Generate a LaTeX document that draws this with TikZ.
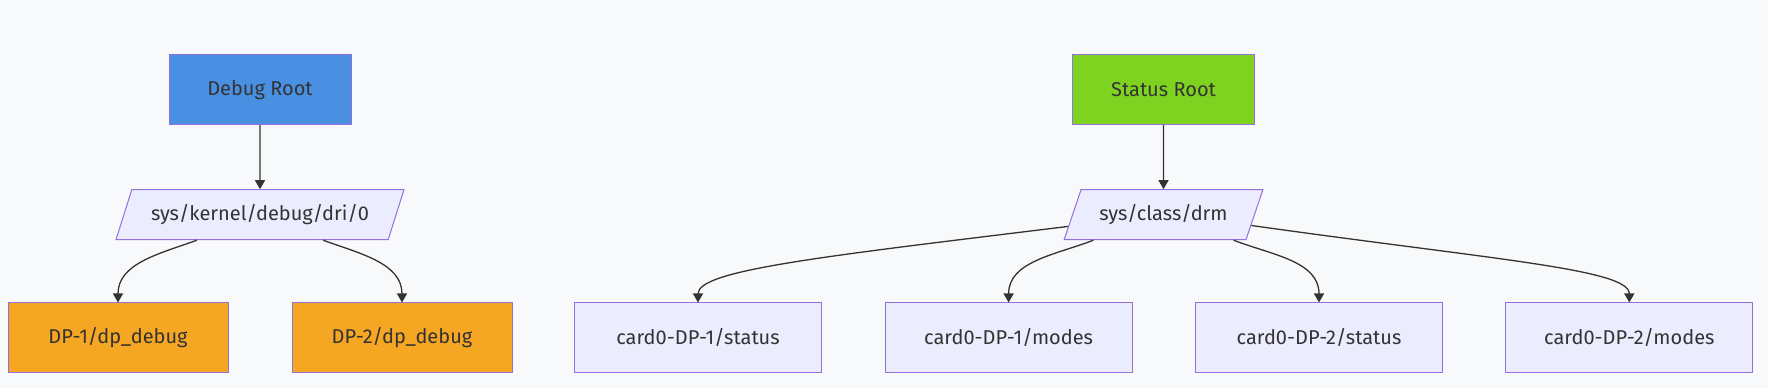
\documentclass[tikz,border=0pt]{standalone}
\usepackage{fontspec}
\setmainfont{Fira Sans}
\usepackage{tikz}
\usetikzlibrary{
  arrows.meta,
  shapes.geometric,
  positioning
}
\definecolor{fsBlue}{HTML}{4A90E2}
\definecolor{fsGreen}{HTML}{7ED321}
\definecolor{fsOrange}{HTML}{F5A623}
\definecolor{fsLilac}{HTML}{ECECFF}
\definecolor{fsStroke}{HTML}{9370DB}
\definecolor{fsInk}{HTML}{333333}
\definecolor{fsBg}{HTML}{F8F9FA}
\tikzset{
  fsnode/.style={
    draw=fsStroke, line width=1pt, minimum height=69pt,
    font=\fontsize{20}{24}\selectfont, text=fsInk, align=center
  },
  rootbox/.style={fsnode, minimum width=182pt, minimum height=70pt},
  debugroot/.style={rootbox, fill=fsBlue},
  statusroot/.style={rootbox, fill=fsGreen},
  fspath/.style={
    fsnode, trapezium, trapezium left angle=63, trapezium right angle=117,
    trapezium stretches=true, fill=fsLilac, minimum height=50pt
  },
  debugfile/.style={fsnode, fill=fsOrange, minimum width=220pt},
  statusfile/.style={fsnode, fill=fsLilac, minimum width=247pt},
  flow/.style={-{Triangle[length=9pt, width=10pt]}, line width=1.3pt, fsInk}
}
\begin{document}
\begin{tikzpicture}[x=1pt, y=1pt, node distance=64pt]
  \fill[fsBg] (0,0) rectangle (1768,388);
  \useasboundingbox (0,0) rectangle (1768,388);
  % debugfs tree
  \node[debugroot] (debug) at (260,298.3) {Debug Root};
  \node[fspath, below=of debug, minimum width=289pt] (dri) {sys/kernel/debug/dri/0};
  \node[debugfile] (dp1) at (118,50.5) {DP-1/dp\_debug};
  \node[debugfile] (dp2) at (402,50.5) {DP-2/dp\_debug};
  % sysfs tree
  \node[statusroot] (status) at (1163.5,298.3) {Status Root};
  \node[fspath, below=of status, minimum width=199pt] (drm) {sys/class/drm};
  \node[statusfile] (c1s) at (698,50.5) {card0-DP-1/status};
  \node[statusfile] (c1m) at (1008.6,50.5) {card0-DP-1/modes};
  \node[statusfile] (c2s) at (1319,50.5) {card0-DP-2/status};
  \node[statusfile] (c2m) at (1629.3,50.5) {card0-DP-2/modes};
  \draw[flow] (debug) -- (dri);
  \draw[flow] (dri.202) to[out=200, in=90] (dp1.north);
  \draw[flow] (dri.338) to[out=340, in=90] (dp2.north);
  \draw[flow] (status) -- (drm);
  \draw[flow] (drm.187) to[out=187, in=90, out looseness=1.68, in looseness=0.22] (c1s.north);
  \draw[flow] (drm.200) to[out=201, in=90] (c1m.north);
  \draw[flow] (drm.340) to[out=339, in=90] (c2s.north);
  \draw[flow] (drm.353) to[out=352, in=90, out looseness=1.65, in looseness=0.22] (c2m.north);
\end{tikzpicture}
\end{document}
